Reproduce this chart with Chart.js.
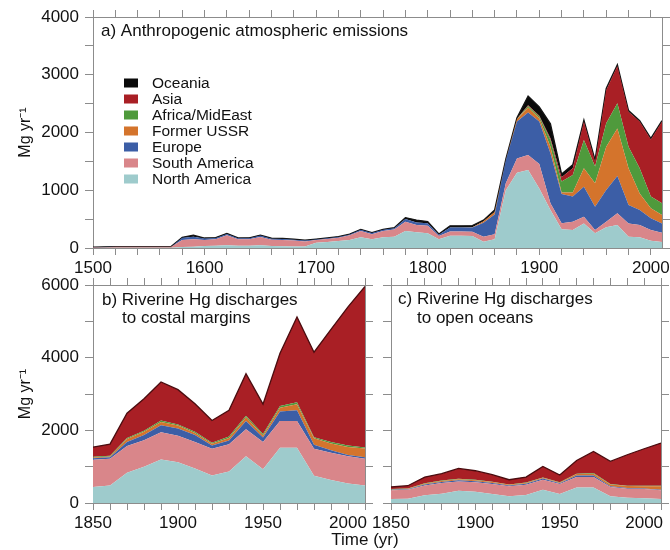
<!DOCTYPE html>
<html>
<head>
<meta charset="utf-8">
<script src="https://cdn.jsdelivr.net/npm/chart.js@4.4.1/dist/chart.umd.min.js"></script>
<style>
  body { margin: 0; background: #fff; }
  #wrap { position: relative; width: 670px; height: 550px; font-family: 'Liberation Sans', Arial, sans-serif; }
  canvas { position: absolute; }
  #timeLabel { position: absolute; left: 315px; top: 530px; width: 100px; text-align: center; font-size: 17px; color: #111; }
</style>
</head>
<body>
<div id="wrap">
  <canvas id="chartA" width="670" height="280" style="left:0;top:0"></canvas>
  <canvas id="chartB" width="380" height="285" style="left:0;top:265px"></canvas>
  <canvas id="chartC" width="302" height="285" style="left:368px;top:265px"></canvas>
  <div id="timeLabel">Time (yr)</div>
</div>
<script>
// regions, bottom of the stack first
const regionNames = ['North America', 'South America', 'Europe', 'Former USSR', 'Africa/MidEast', 'Asia', 'Oceania'];
const regionColors = ['#9ecbcc', '#d9868a', '#3c5ea6', '#d4742c', '#4f9a3c', '#a91f25', '#0a0a0a'];

// a) atmospheric emissions, Mg/yr
const yearsA = [1500, 1510, 1520, 1530, 1540, 1550, 1560, 1570, 1580, 1590,
                1600, 1610, 1620, 1630, 1640, 1650, 1660, 1670, 1680, 1690,
                1700, 1710, 1720, 1730, 1740, 1750, 1760, 1770, 1780, 1790,
                1800, 1810, 1820, 1830, 1840, 1850, 1860, 1870, 1880, 1890,
                1900, 1910, 1920, 1930, 1940, 1950, 1960, 1970, 1980, 1990,
                2000, 2010];
const northAmericaA = [2, 3, 4, 4, 4, 4, 4, 4, 17, 23,
                       35, 40, 46, 40, 40, 46, 35, 32, 28, 25,
                       92, 104, 121, 139, 185, 150, 185, 196, 294, 271,
                       254, 150, 214, 214, 208, 110, 150, 1000, 1305, 1350,
                       1030, 660, 325, 310, 425, 255, 360, 400, 195, 185,
                       125, 105];
const southAmericaA = [8, 12, 16, 16, 16, 16, 16, 16, 122, 127,
                       104, 110, 173, 110, 112, 144, 109, 108, 100, 88,
                       45, 52, 58, 80, 110, 90, 110, 125, 162, 127,
                       133, 58, 70, 70, 75, 86, 90, 120, 245, 260,
                       425, 115, 105, 145, 115, 55, 95, 200, 230, 215,
                       185, 160];
const europeA = [2, 3, 3, 3, 3, 3, 3, 3, 40, 46,
                 25, 22, 25, 18, 18, 25, 18, 18, 17, 15,
                 12, 12, 12, 15, 20, 18, 20, 22, 45, 45,
                 40, 20, 70, 70, 70, 243, 340, 400, 640, 735,
                 735, 865, 505, 435, 520, 405, 550, 645, 320, 260,
                 205, 160];
const ussrA = [0, 0, 0, 0, 0, 0, 0, 0, 0, 0,
               0, 0, 0, 0, 0, 0, 0, 0, 0, 0,
               0, 0, 0, 0, 0, 0, 0, 0, 0, 0,
               0, 0, 0, 0, 5, 23, 45, 10, 40, 90,
               55, 115, 25, 70, 320, 405, 750, 825, 635, 285,
               175, 145];
const africaA = [0, 0, 0, 0, 0, 0, 0, 0, 0, 0,
                 0, 0, 0, 0, 0, 0, 0, 0, 0, 0,
                 0, 0, 0, 0, 0, 0, 0, 0, 0, 0,
                 0, 0, 0, 0, 0, 0, 0, 0, 5, 25,
                 30, 115, 190, 305, 490, 290, 405, 435, 375, 435,
                 200, 205];
const asiaA = [0, 0, 0, 0, 0, 0, 0, 0, 0, 0,
               0, 0, 0, 0, 0, 0, 0, 0, 0, 0,
               0, 0, 0, 0, 0, 0, 0, 0, 0, 0,
               0, 0, 0, 0, 0, 0, 0, 0, 5, 10,
               15, 30, 75, 115, 320, 85, 575, 645, 605, 810,
               990, 1415];
const oceaniaA = [2, 2, 2, 2, 2, 2, 2, 2, 6, 25,
                  9, 8, 10, 7, 7, 8, 8, 8, 8, 7,
                  6, 6, 6, 6, 8, 7, 8, 9, 25, 40,
                  30, 15, 30, 30, 30, 20, 35, 10, 15, 160,
                  155, 250, 55, 60, 25, 30, 30, 25, 20, 15,
                  20, 15];

// b) and c) riverine discharges, Mg/yr
const yearsR = [1850, 1860, 1870, 1880, 1890, 1900, 1910, 1920, 1930,
                1940, 1950, 1960, 1970, 1980, 1990, 2000, 2010];
const northAmericaB = [440, 480, 830, 1000, 1200, 1120, 950, 760, 870, 1290, 930, 1520, 1520, 750, 630, 540, 480];
const southAmericaB = [750, 740, 740, 730, 750, 730, 730, 730, 750, 740, 750, 740, 740, 740, 750, 750, 740];
const europeB = [40, 40, 110, 140, 190, 200, 190, 90, 100, 230, 120, 260, 290, 110, 70, 30, 40];
const ussrB = [20, 20, 80, 90, 90, 80, 60, 50, 70, 100, 60, 100, 170, 180, 190, 220, 240];
const africaB = [20, 20, 30, 30, 40, 30, 30, 30, 40, 40, 40, 50, 50, 30, 40, 40, 30];
const asiaB = [270, 320, 680, 880, 1060, 960, 770, 610, 720, 1160, 820, 1450, 2350, 2340, 3100, 3820, 4430];

const northAmericaC = [110, 119, 210, 256, 339, 311, 247, 183, 220, 366, 247, 430, 430, 183, 147, 128, 110];
const southAmericaC = [240, 247, 275, 294, 256, 257, 275, 275, 284, 275, 275, 284, 284, 257, 247, 257, 238];
const europeC = [15, 14, 25, 30, 30, 32, 28, 22, 26, 34, 23, 46, 46, 20, 16, 13, 18];
const ussrC = [10, 12, 20, 25, 30, 28, 25, 20, 20, 20, 15, 35, 45, 50, 55, 62, 96];
const africaC = [10, 8, 15, 15, 13, 13, 13, 12, 12, 10, 8, 11, 19, 12, 13, 12, 13];
const asiaC = [55, 76, 169, 186, 284, 247, 190, 129, 152, 302, 201, 366, 596, 623, 850, 1021, 1173];

const fontFam = "'Liberation Sans', Arial, sans-serif";
const axisColor = '#8c8c8c';
const textColor = '#111';

function buildSets(years, series, topLine) {
    return series.map((vals, i) => {
        const isTop = i === series.length - 1;
        return {
            label: regionNames[i],
            data: years.map((yr, k) => ({ x: yr, y: vals[k] })),
            backgroundColor: regionColors[i],
            borderColor: isTop ? topLine : 'transparent',
            borderWidth: isTop ? 1.3 : 0,
            fill: i === 0 ? 'origin' : '-1',
            pointRadius: 0,
            tension: 0,
        };
    });
}

// pin axis boxes so the plot areas land where the figure has them
function fixSize(size) {
    return scale => {
        if (scale.isHorizontal()) {
            scale.height = size;
            scale.paddingLeft = 0;
            scale.paddingRight = 0;
        } else {
            scale.width = size;
            scale.paddingTop = 0;
            scale.paddingBottom = 0;
        }
    };
}

function axis(pos, min, max, step, labelEvery, size, extra) {
    const vertical = pos === 'left' || pos === 'right';
    return Object.assign({
        type: 'linear',
        position: pos,
        min: min,
        max: max,
        afterFit: fixSize(size),
        border: { display: true, color: axisColor, width: 1 },
        grid: { drawOnChartArea: false, tickLength: vertical ? 8 : 7, color: axisColor, lineWidth: 1 },
        ticks: {
            stepSize: step,
            autoSkip: false,
            maxRotation: 0,
            includeBounds: false,
            padding: vertical ? 6 : 3,
            color: textColor,
            font: { family: fontFam, size: 17 },
            callback: v => (labelEvery && v % labelEvery === 0) ? String(v) : '',
        },
    }, extra || {});
}

function yTitle() {
    return {
        display: true,
        text: 'Mg yr\u207B\u00B9',
        color: textColor,
        font: { family: fontFam, size: 16 },
        padding: { top: 16, bottom: 0 },
    };
}

const panelText = {
    id: 'panelText',
    afterDraw(chart, args, opts) {
        const ctx = chart.ctx;
        ctx.save();
        ctx.font = '17px ' + fontFam;
        ctx.fillStyle = textColor;
        ctx.textBaseline = 'middle';
        opts.lines.forEach(l => ctx.fillText(l.text, l.x, l.y));
        ctx.restore();
    }
};

const areaLegend = {
    id: 'areaLegend',
    afterDraw(chart, args, opts) {
        if (!opts.show) return;
        const ctx = chart.ctx;
        ctx.save();
        ctx.font = '15.5px ' + fontFam;
        ctx.textBaseline = 'middle';
        const sets = chart.data.datasets.slice().reverse();
        sets.forEach((ds, i) => {
            const y = opts.y + i * opts.gap;
            ctx.fillStyle = ds.backgroundColor;
            ctx.fillRect(opts.x, y - 4.5, 14, 9);
            ctx.fillStyle = textColor;
            ctx.fillText(ds.label, opts.x + 28, y + 1);
        });
        ctx.restore();
    }
};

function makeChart(id, years, series, topLine, scales, lines, legend) {
    return new Chart(document.getElementById(id).getContext('2d'), {
        type: 'line',
        data: { datasets: buildSets(years, series, topLine) },
        options: {
            responsive: false,
            animation: false,
            devicePixelRatio: 1,
            layout: { padding: 0 },
            plugins: {
                legend: { display: false },
                tooltip: { enabled: false },
                panelText: { lines: lines },
                areaLegend: legend || { show: false },
            },
            scales: scales,
        },
        plugins: [panelText, areaLegend],
    });
}

// a) plot area 93..662 x 17..248
makeChart('chartA', yearsA,
    [northAmericaA, southAmericaA, europeA, ussrA, africaA, asiaA, oceaniaA], '#151515',
    {
        x: axis('bottom', 1500, 2010, 20, 100, 32),
        xTop: axis('top', 1500, 2010, 20, 0, 17),
        y: axis('left', 0, 4000, 500, 1000, 93, { stacked: true, title: yTitle() }),
        yRight: axis('right', 0, 4000, 500, 0, 8),
    },
    [{ text: 'a) Anthropogenic atmospheric emissions', x: 101, y: 31 }],
    { show: true, x: 124, y: 83, gap: 16 });

// b) plot area 93..365 x 285..503 (canvas top 265)
makeChart('chartB', yearsR,
    [northAmericaB, southAmericaB, europeB, ussrB, africaB, asiaB], '#4a0c0f',
    {
        x: axis('bottom', 1850, 2010, 10, 50, 47),
        xTop: axis('top', 1850, 2010, 10, 0, 20),
        y: axis('left', 0, 6000, 1000, 2000, 93, { stacked: true, title: yTitle() }),
        yRight: axis('right', 0, 6000, 1000, 0, 15),
    },
    [{ text: 'b) Riverine Hg discharges', x: 102, y: 35 },
     { text: 'to costal margins', x: 122, y: 53 }]);

// c) plot area 391..661 x 285..503 (canvas left 368)
makeChart('chartC', yearsR,
    [northAmericaC, southAmericaC, europeC, ussrC, africaC, asiaC], '#4a0c0f',
    {
        x: axis('bottom', 1850, 2010, 10, 50, 47),
        xTop: axis('top', 1850, 2010, 10, 0, 20),
        y: axis('left', 0, 6000, 1000, 0, 23, { stacked: true }),
        yRight: axis('right', 0, 6000, 1000, 0, 9),
    },
    [{ text: 'c) Riverine Hg discharges', x: 30, y: 34 },
     { text: 'to open oceans', x: 49, y: 53 }]);
</script>
</body>
</html>
